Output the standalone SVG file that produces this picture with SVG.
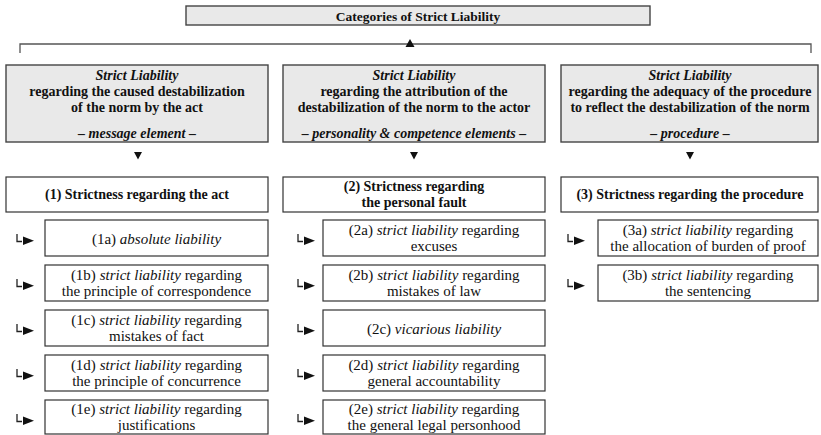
<svg xmlns="http://www.w3.org/2000/svg" width="821" height="435" viewBox="0 0 821 435" font-family="Liberation Serif, Times New Roman, serif">
<style>
.bg{fill:#ffffff}
.gbox{fill:#e9e9e9;stroke:#444;stroke-width:1.4}
.box{fill:#ffffff;stroke:#333;stroke-width:1.2}
.line{fill:none;stroke:#555;stroke-width:1.3}
.tri{fill:#111}
text{fill:#111;text-anchor:middle}
.t{font-size:13.5px;font-weight:bold}
.h{font-size:14px;font-weight:bold}
.s{font-size:15px}
.i{font-style:italic}
</style>
<rect class="bg" x="0" y="0" width="821" height="435"/>
<g id="title">
<rect class="gbox" x="186" y="6" width="464" height="19"/>
<text class="t" x="418" y="20.5">Categories of Strict Liability</text>
</g>
<g id="connectors">
<path class="line" d="M20,53 V44 H811 V53"/>
<polygon class="tri" points="410,39 414.5,47 405.5,47"/>
<polygon class="tri" points="134,152 142,152 138,159.5"/>
<polygon class="tri" points="410,152 418,152 414,159.5"/>
<polygon class="tri" points="686,152 694,152 690,159.5"/>
</g>
<g id="cat1">
<rect class="gbox" x="6" y="65" width="262" height="77"/>
<text class="h i" x="137" y="80">Strict Liability</text>
<text class="h" x="137" y="96">regarding the caused destabilization</text>
<text class="h" x="137" y="112">of the norm by the act</text>
<text class="h i" x="137" y="138">– message element –</text>
</g>
<g id="cat2">
<rect class="gbox" x="283" y="65" width="262" height="77"/>
<text class="h i" x="414" y="80">Strict Liability</text>
<text class="h" x="414" y="96">regarding the attribution of the</text>
<text class="h" x="414" y="112">destabilization of the norm to the actor</text>
<text class="h i" x="414" y="138">– personality &amp; competence elements –</text>
</g>
<g id="cat3">
<rect class="gbox" x="561" y="65" width="257" height="77"/>
<text class="h i" x="690" y="80">Strict Liability</text>
<text class="h" x="690" y="96">regarding the adequacy of the procedure</text>
<text class="h" x="690" y="112">to reflect the destabilization of the norm</text>
<text class="h i" x="690" y="138">– procedure –</text>
</g>
<g id="s1">
<rect class="box" x="6" y="177" width="262" height="35"/>
<text class="h" x="137" y="199">(1) Strictness regarding the act</text>
</g>
<g id="s2">
<rect class="box" x="283" y="177" width="262" height="35"/>
<text class="h" x="414" y="191">(2) Strictness regarding</text>
<text class="h" x="414" y="207">the personal fault</text>
</g>
<g id="s3">
<rect class="box" x="561" y="177" width="257" height="35"/>
<text class="h" x="690" y="199">(3) Strictness regarding the procedure</text>
</g>
<defs>
<g id="arr">
<path d="M0,-4 V3.5 H5" fill="none" stroke="#222" stroke-width="1.3"/>
<polygon points="6,-1.5 6,7 17,2.75" fill="#111"/>
</g>
</defs>
<g id="n1a">
<use href="#arr" x="17" y="238"/>
<rect class="box" x="45" y="220" width="223" height="36"/>
<text class="s" x="156.5" y="243.5">(1a) <tspan class="i">absolute liability</tspan></text>
</g>
<g id="n1b">
<use href="#arr" x="17" y="283"/>
<rect class="box" x="45" y="265" width="223" height="36"/>
<text class="s" x="156.5" y="280">(1b) <tspan class="i">strict liability</tspan> regarding</text>
<text class="s" x="156.5" y="295.5">the principle of correspondence</text>
</g>
<g id="n1c">
<use href="#arr" x="17" y="328"/>
<rect class="box" x="45" y="310" width="223" height="36"/>
<text class="s" x="156.5" y="325">(1c) <tspan class="i">strict liability</tspan> regarding</text>
<text class="s" x="156.5" y="340.5">mistakes of fact</text>
</g>
<g id="n1d">
<use href="#arr" x="17" y="373"/>
<rect class="box" x="45" y="355" width="223" height="36"/>
<text class="s" x="156.5" y="370">(1d) <tspan class="i">strict liability</tspan> regarding</text>
<text class="s" x="156.5" y="385.5">the principle of concurrence</text>
</g>
<g id="n1e">
<use href="#arr" x="17" y="418"/>
<rect class="box" x="45" y="400" width="223" height="34"/>
<text class="s" x="156.5" y="414">(1e) <tspan class="i">strict liability</tspan> regarding</text>
<text class="s" x="156.5" y="429.5">justifications</text>
</g>
<g id="n2a">
<use href="#arr" x="298" y="238"/>
<rect class="box" x="323" y="220" width="222" height="36"/>
<text class="s" x="434" y="235">(2a) <tspan class="i">strict liability</tspan> regarding</text>
<text class="s" x="434" y="250.5">excuses</text>
</g>
<g id="n2b">
<use href="#arr" x="298" y="283"/>
<rect class="box" x="323" y="265" width="222" height="36"/>
<text class="s" x="434" y="280">(2b) <tspan class="i">strict liability</tspan> regarding</text>
<text class="s" x="434" y="295.5">mistakes of law</text>
</g>
<g id="n2c">
<use href="#arr" x="298" y="328"/>
<rect class="box" x="323" y="310" width="222" height="36"/>
<text class="s" x="434" y="333.5">(2c) <tspan class="i">vicarious liability</tspan></text>
</g>
<g id="n2d">
<use href="#arr" x="298" y="373"/>
<rect class="box" x="323" y="355" width="222" height="36"/>
<text class="s" x="434" y="370">(2d) <tspan class="i">strict liability</tspan> regarding</text>
<text class="s" x="434" y="385.5">general accountability</text>
</g>
<g id="n2e">
<use href="#arr" x="298" y="418"/>
<rect class="box" x="323" y="400" width="222" height="34"/>
<text class="s" x="434" y="414">(2e) <tspan class="i">strict liability</tspan> regarding</text>
<text class="s" x="434" y="429.5">the general legal personhood</text>
</g>
<g id="n3a">
<use href="#arr" x="568" y="238"/>
<rect class="box" x="598" y="220" width="220" height="36"/>
<text class="s" x="708" y="235">(3a) <tspan class="i">strict liability</tspan> regarding</text>
<text class="s" x="708" y="250.5">the allocation of burden of proof</text>
</g>
<g id="n3b">
<use href="#arr" x="568" y="283"/>
<rect class="box" x="598" y="265" width="220" height="36"/>
<text class="s" x="708" y="280">(3b) <tspan class="i">strict liability</tspan> regarding</text>
<text class="s" x="708" y="295.5">the sentencing</text>
</g>
</svg>
